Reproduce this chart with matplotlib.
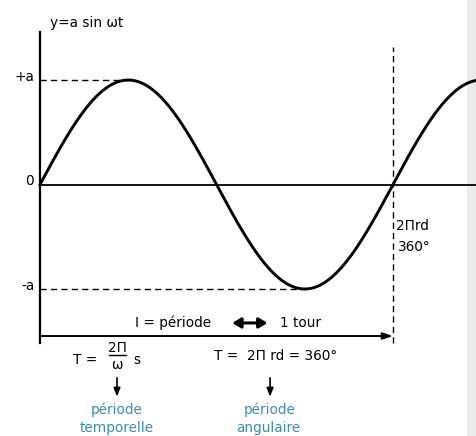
#!/usr/bin/env python
# sine wave diagram: y = a sin wt, one period T

import numpy as np
import matplotlib
matplotlib.use('Agg')
import matplotlib.pyplot as plt

# phase in degrees, amplitude in units of a
phase = np.linspace(0, 445, 600)
amplitude = 1.0
period_deg = 360

# text labels
eq_label = 'y=a sin \u03c9t'
level_labels = ['+a', '0', '-a']
level_values = [1, 0, -1]
blue = '#3b8db4'

fig = plt.figure(figsize=(4.76, 4.36), dpi=100)
ax = fig.add_axes([0, 0, 1, 1])
ax.set_xlim(-40.8, 444.6)
ax.set_ylim(-2.407, 1.766)
ax.axis('off')

fs = 9.8
# grey scan edge on the right
ax.axvspan(435, 444.6, color='#ebebeb', lw=0, zorder=0)

# axes
ax.plot([0, 0], [-1.517, 1.459], color='black', lw=1.6)
ax.plot([0, 444.6], [0, 0], color='black', lw=1.3)

# the sine curve
ax.plot(phase, amplitude * np.sin(np.radians(phase)), color='black', lw=2.1)

# dashed helper lines
ax.plot([0, 90], [1, 1], color='black', lw=1.0, ls=(0, (4.5, 3)))
ax.plot([0, 270], [-1, -1], color='black', lw=1.0, ls=(0, (4.5, 3)))
ax.plot([period_deg, period_deg], [-1.517, 1.316], color='black', lw=1.0, ls=(0, (4.5, 3)))

# labels on y axis
ax.text(10, 1.545, eq_label, fontsize=fs, ha='left', va='center')
for lab, v in zip(level_labels, level_values):
    ax.text(-6, v + 0.03, lab, fontsize=fs, ha='right', va='center')

ax.text(363, -0.40, '2\u03a0rd', fontsize=fs, ha='left', va='center')
ax.text(365, -0.60, '360\u00b0', fontsize=fs, ha='left', va='center')

# period arrow along the bottom
ax.annotate('', xy=(period_deg, -1.45), xytext=(0, -1.45),
            arrowprops=dict(arrowstyle='-|>,head_length=0.6,head_width=0.2',
                            color='black', lw=1.4, shrinkA=0, shrinkB=0))

ax.text(174, -1.325, 'I = p\u00e9riode', fontsize=fs, ha='right', va='center')
ax.annotate('', xy=(232, -1.325), xytext=(196, -1.325),
            arrowprops=dict(arrowstyle='<|-|>,head_length=0.5,head_width=0.3',
                            color='black', lw=2.2, shrinkA=0, shrinkB=0))
ax.text(245, -1.325, '1 tour', fontsize=fs, ha='left', va='center')

# T = 2Pi / w  s
ax.text(46, -1.679, 'T =', fontsize=fs, ha='center', va='center')
ax.text(78.5, -1.565, '2\u03a0', fontsize=fs, ha='center', va='center')
ax.plot([70, 88], [-1.635, -1.635], color='black', lw=1.0)
ax.text(78.5, -1.727, '\u03c9', fontsize=fs, ha='center', va='center')
ax.text(99, -1.679, 's', fontsize=fs, ha='center', va='center')

ax.text(240, -1.641, 'T =  2\u03a0 rd = 360\u00b0', fontsize=fs, ha='center', va='center')

# arrows down to the blue notes
for xpos in [78.5, 234.6]:
    ax.annotate('', xy=(xpos, -2.03), xytext=(xpos, -1.85),
                arrowprops=dict(arrowstyle='-|>,head_length=0.5,head_width=0.2',
                                color='black', lw=1.2, shrinkA=0, shrinkB=0))

ax.text(78.5, -2.158, 'p\u00e9riode', fontsize=fs, color=blue, ha='center', va='center')
ax.text(78.5, -2.330, 'temporelle', fontsize=fs, color=blue, ha='center', va='center')
ax.text(234.6, -2.158, 'p\u00e9riode', fontsize=fs, color=blue, ha='center', va='center')
ax.text(232.5, -2.330, 'angulaire', fontsize=fs, color=blue, ha='center', va='center')

fig.savefig('out.png', dpi=100)
